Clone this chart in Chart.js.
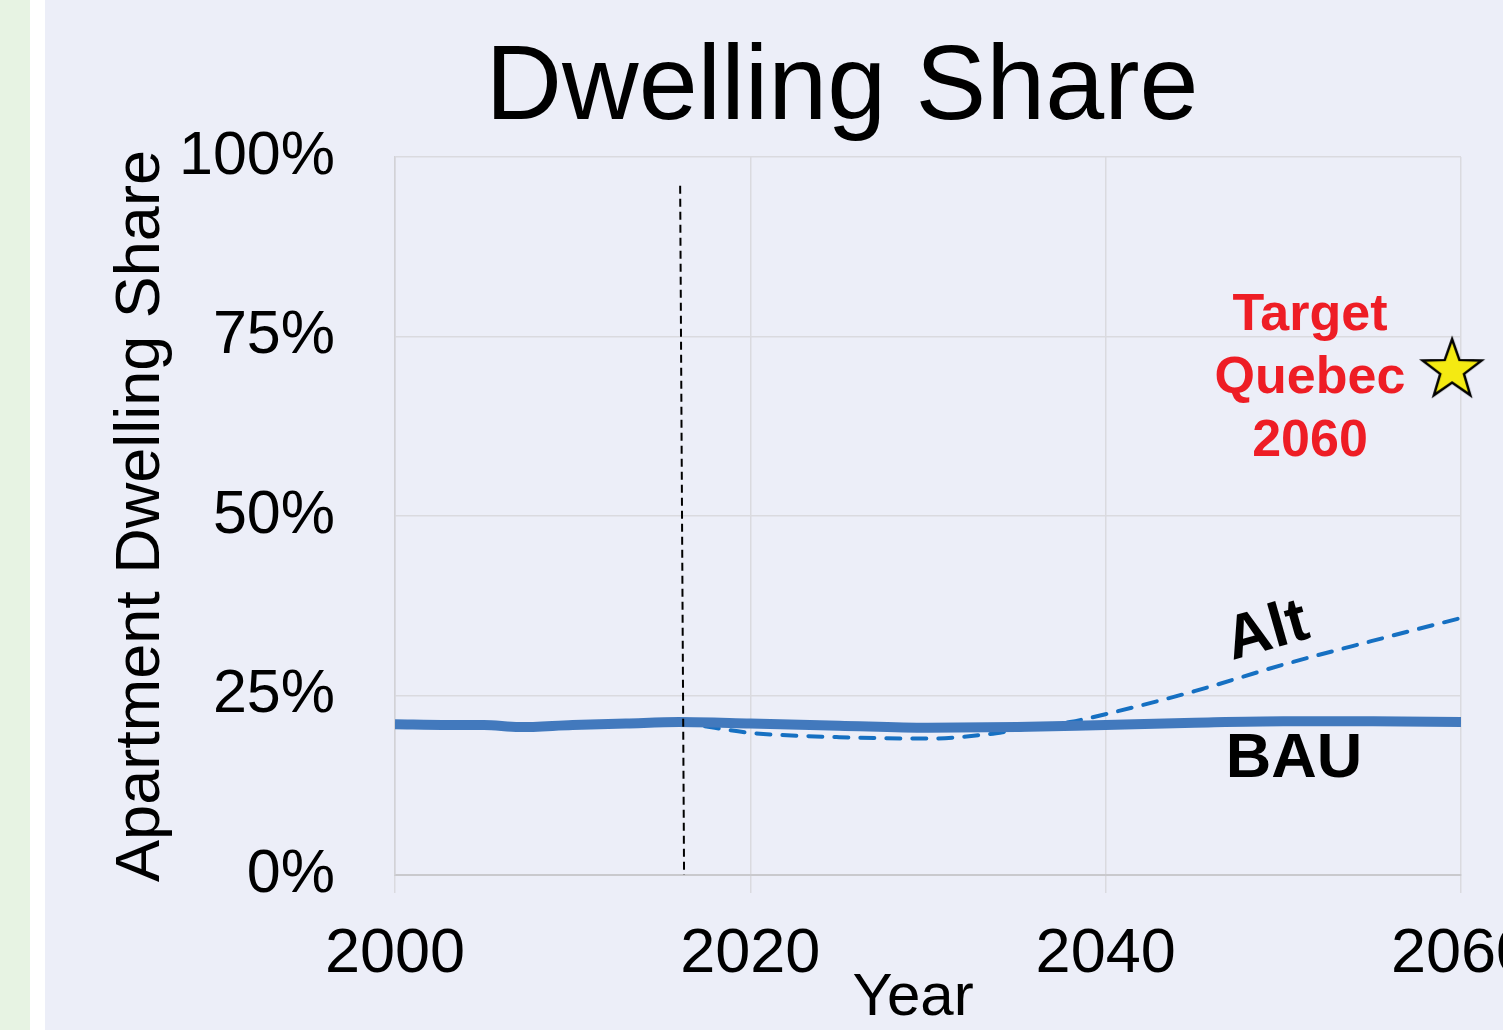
<!DOCTYPE html>
<html>
<head>
<meta charset="utf-8">
<script src="https://cdn.jsdelivr.net/npm/chart.js@4.4.1/dist/chart.umd.min.js"></script>
<style>
  html, body { margin:0; padding:0; width:1503px; height:1030px; overflow:hidden; background:#eceef8; }
  #strip-green { position:absolute; left:0; top:0; width:30px; height:1030px; background:#e7f3e3; }
  #strip-white { position:absolute; left:30px; top:0; width:15px; height:1030px; background:#ffffff; }
  #chart { position:absolute; left:45px; top:0; }
</style>
</head>
<body>
<div id="strip-green"></div>
<div id="strip-white"></div>
<canvas id="chart" width="1458" height="1030"></canvas>
<script>
// BAU series (year, apartment share %)
const bauYears  = [2000, 2003, 2005, 2007, 2010, 2013, 2016, 2020, 2025, 2030, 2035, 2040, 2045, 2050, 2055, 2060];
const bauValues = [21.0, 20.9, 20.9, 20.6, 20.9, 21.1, 21.3, 21.1, 20.8, 20.5, 20.6, 20.9, 21.2, 21.4, 21.4, 21.3];

// Alt scenario, splits off after base year
const altYears  = [2016, 2018, 2020, 2025, 2030, 2033, 2035, 2038, 2040, 2045, 2050, 2055, 2060];
const altValues = [21.3, 20.5, 19.8, 19.2, 19.0, 19.5, 20.2, 21.3, 22.4, 25.6, 29.3, 32.6, 35.8];

// base-year marker (dashed vertical)
const baseYearLine = [{x:2016.05, y:96}, {x:2016.27, y:0}];

// target point
const targetYear = 2059.5;
const targetValue = 70.6;

const xTicks = [2000, 2020, 2040, 2060];
const yTicks = [0, 25, 50, 75, 100];

// annotation anchors in data units
const labelTarget = {x:2051.5, y:75.9, lines:['Target', 'Quebec', '2060']};
const labelBAU = {x:2050.6, y:13.6, text:'BAU'};
const labelAlt = {x:2049.1, y:33.8, text:'Alt'};

function zip(xs, ys){ return xs.map((x,i)=>({x, y:ys[i]})); }

// star image for the target point
function makeStar(){
  const c = document.createElement('canvas');
  c.width = 72; c.height = 72;
  const g = c.getContext('2d');
  const cx = 36, cy = 38, R = 31, r = 12.5;
  g.beginPath();
  for(let i=0;i<10;i++){
    const rad = (i%2===0) ? R : r;
    const a = -Math.PI/2 + i*Math.PI/5;
    const px = cx + rad*Math.cos(a), py = cy + rad*Math.sin(a);
    if(i===0) g.moveTo(px,py); else g.lineTo(px,py);
  }
  g.closePath();
  g.fillStyle = '#f4ea12';
  g.fill();
  g.lineWidth = 2.5;
  g.strokeStyle = '#000';
  g.lineJoin = 'miter';
  g.stroke();
  return c;
}

const FONT = '"Liberation Sans", Arial, sans-serif';

const textPlugin = {
  id:'texts',
  afterDatasetsDraw(chart){
    const {ctx, scales:{x, y}} = chart;
    ctx.save();
    ctx.fillStyle = '#000';

    // main title
    ctx.font = '106px ' + FONT;
    ctx.textAlign = 'center';
    ctx.textBaseline = 'alphabetic';
    ctx.fillText('Dwelling Share', 797, 119);

    // axis titles
    ctx.font = '60px ' + FONT;
    ctx.fillText('Year', 868, 1015);
    ctx.save();
    ctx.translate(114, 516);
    ctx.rotate(-Math.PI/2);
    ctx.font = '63px ' + FONT;
    ctx.fillText('Apartment Dwelling Share', 0, 0);
    ctx.restore();

    // target label
    ctx.fillStyle = '#ee1d25';
    ctx.font = 'bold 52px ' + FONT;
    const tx = x.getPixelForValue(labelTarget.x);
    const ty = y.getPixelForValue(labelTarget.y);
    labelTarget.lines.forEach((t,i)=> ctx.fillText(t, tx, ty + i*63));

    // series labels
    ctx.fillStyle = '#000';
    ctx.font = 'bold 63px ' + FONT;
    ctx.fillText(labelBAU.text, x.getPixelForValue(labelBAU.x), y.getPixelForValue(labelBAU.y));

    ctx.save();
    ctx.translate(x.getPixelForValue(labelAlt.x), y.getPixelForValue(labelAlt.y));
    ctx.rotate(-16*Math.PI/180);
    ctx.font = 'bold 62px ' + FONT;
    ctx.textBaseline = 'middle';
    ctx.fillText(labelAlt.text, 0, 0);
    ctx.restore();

    ctx.restore();
  }
};

new Chart(document.getElementById('chart'), {
  type:'line',
  data:{
    datasets:[
      {label:'Base year', data:baseYearLine, borderColor:'#000', borderWidth:2, borderDash:[8,5], pointRadius:0, tension:0},
      {label:'BAU', data:zip(bauYears, bauValues), borderColor:'#4279bd', borderWidth:10, pointRadius:0, cubicInterpolationMode:'monotone', borderCapStyle:'butt'},
      {label:'Alt', data:zip(altYears, altValues), borderColor:'#1670c2', borderWidth:4, borderDash:[14,12], borderCapStyle:'round', pointRadius:0, cubicInterpolationMode:'monotone'},
      {label:'Target', data:[{x:targetYear, y:targetValue}], showLine:false, clip:false, pointStyle:makeStar(), pointRadius:5, pointHoverRadius:5}
    ]
  },
  options:{
    responsive:false,
    animation:false,
    devicePixelRatio:1,
    layout:{padding:{top:157, left:0, right:42, bottom:0}},
    plugins:{legend:{display:false}, tooltip:{enabled:false}, title:{display:false}},
    scales:{
      x:{
        type:'linear', min:2000, max:2060,
        afterBuildTicks(s){ s.ticks = xTicks.map(v=>({value:v})); },
        afterFit(s){ s.height = 155; s.paddingLeft = 0; s.paddingRight = 0; },
        ticks:{color:'#000', font:{family:FONT, size:63}, padding:24, maxRotation:0, autoSkip:false, callback:v=>String(v)},
        grid:{color:'#dadadf', lineWidth:1.5, drawTicks:true, tickLength:18, tickColor:'#dadadf'},
        border:{color:'#c9c9cd', width:2}
      },
      y:{
        min:0, max:100,
        afterBuildTicks(s){ s.ticks = yTicks.map(v=>({value:v})); },
        afterFit(s){ s.width = 350; s.paddingTop = 0; s.paddingBottom = 0; },
        ticks:{color:'#000', font:{family:FONT, size:61}, padding:60, callback:v=>v+'%'},
        grid:{color:'#dadadf', lineWidth:1.5, drawTicks:false},
        border:{color:'#d2d2d6', width:1.5}
      }
    }
  },
  plugins:[textPlugin]
});
</script>
</body>
</html>
